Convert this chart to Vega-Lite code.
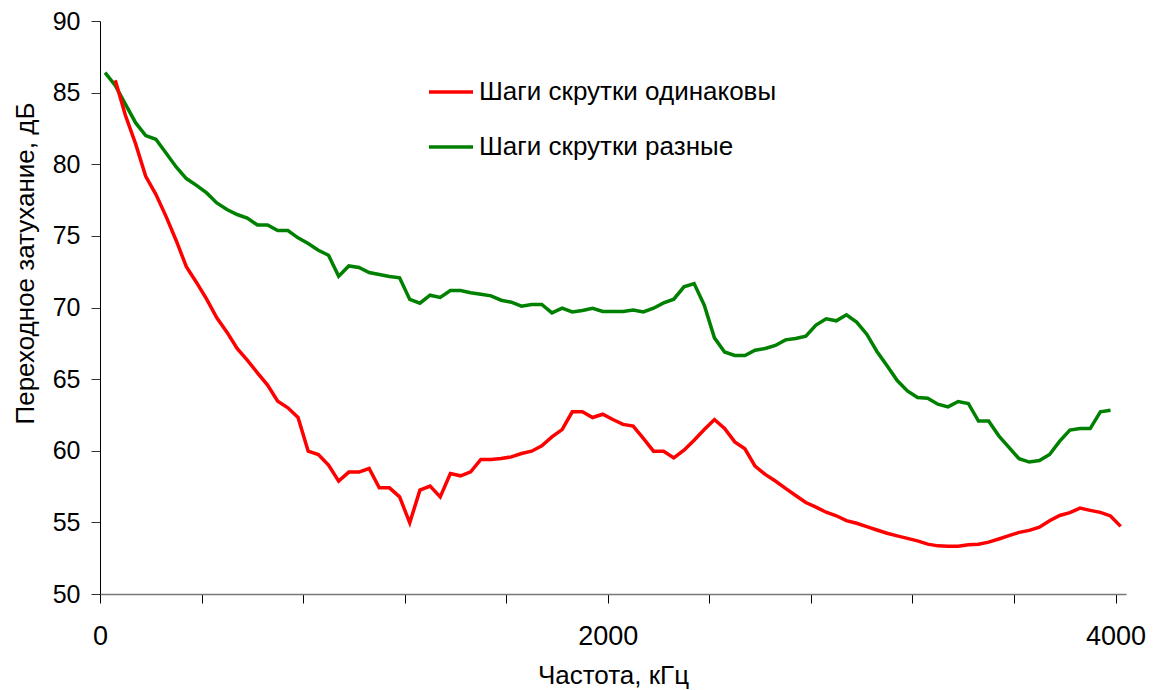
{
  "$schema": "https://vega.github.io/schema/vega-lite/v6.json",
  "autosize": "none",
  "width": 1026,
  "height": 573,
  "padding": {"left": 100, "top": 21, "right": 29, "bottom": 96},
  "background": "white",
  "config": {
    "font": "Liberation Sans",
    "view": {"stroke": null},
    "axis": {"grid": false, "labelColor": "#000", "titleColor": "#000", "titleFontWeight": "normal", "labelFont": "Liberation Sans", "titleFont": "Liberation Sans"}
  },
  "data": {"values": [
    {"series":"Шаги скрутки разные","x":20,"y":86.4},{"series":"Шаги скрутки разные","x":60,"y":85.5},{"series":"Шаги скрутки разные","x":100,"y":84.2},{"series":"Шаги скрутки разные","x":140,"y":82.9},{"series":"Шаги скрутки разные","x":180,"y":82.0},{"series":"Шаги скрутки разные","x":220,"y":81.74},{"series":"Шаги скрутки разные","x":260,"y":80.79},{"series":"Шаги скрутки разные","x":300,"y":79.81},{"series":"Шаги скрутки разные","x":340,"y":79.0},{"series":"Шаги скрутки разные","x":380,"y":78.53},
    {"series":"Шаги скрутки разные","x":420,"y":78.0},{"series":"Шаги скрутки разные","x":460,"y":77.3},{"series":"Шаги скрутки разные","x":500,"y":76.84},{"series":"Шаги скрутки разные","x":540,"y":76.49},{"series":"Шаги скрутки разные","x":580,"y":76.25},{"series":"Шаги скрутки разные","x":620,"y":75.76},{"series":"Шаги скрутки разные","x":660,"y":75.76},{"series":"Шаги скрутки разные","x":700,"y":75.37},{"series":"Шаги скрутки разные","x":740,"y":75.37},{"series":"Шаги скрутки разные","x":780,"y":74.86},
    {"series":"Шаги скрутки разные","x":820,"y":74.47},{"series":"Шаги скрутки разные","x":860,"y":74.0},{"series":"Шаги скрутки разные","x":900,"y":73.65},{"series":"Шаги скрутки разные","x":940,"y":72.18},{"series":"Шаги скрутки разные","x":980,"y":72.9},{"series":"Шаги скрутки разные","x":1020,"y":72.79},{"series":"Шаги скрутки разные","x":1060,"y":72.44},{"series":"Шаги скрутки разные","x":1100,"y":72.3},{"series":"Шаги скрутки разные","x":1140,"y":72.16},{"series":"Шаги скрутки разные","x":1180,"y":72.07},
    {"series":"Шаги скрутки разные","x":1220,"y":70.56},{"series":"Шаги скрутки разные","x":1260,"y":70.3},{"series":"Шаги скрутки разные","x":1300,"y":70.86},{"series":"Шаги скрутки разные","x":1340,"y":70.7},{"series":"Шаги скрутки разные","x":1380,"y":71.19},{"series":"Шаги скрутки разные","x":1420,"y":71.19},{"series":"Шаги скрутки разные","x":1460,"y":71.03},{"series":"Шаги скрутки разные","x":1500,"y":70.93},{"series":"Шаги скрутки разные","x":1540,"y":70.81},{"series":"Шаги скрутки разные","x":1580,"y":70.51},
    {"series":"Шаги скрутки разные","x":1620,"y":70.37},{"series":"Шаги скрутки разные","x":1660,"y":70.09},{"series":"Шаги скрутки разные","x":1700,"y":70.21},{"series":"Шаги скрутки разные","x":1740,"y":70.21},{"series":"Шаги скрутки разные","x":1780,"y":69.62},{"series":"Шаги скрутки разные","x":1820,"y":69.95},{"series":"Шаги скрутки разные","x":1860,"y":69.69},{"series":"Шаги скрутки разные","x":1900,"y":69.79},{"series":"Шаги скрутки разные","x":1940,"y":69.95},{"series":"Шаги скрутки разные","x":1980,"y":69.72},
    {"series":"Шаги скрутки разные","x":2020,"y":69.72},{"series":"Шаги скрутки разные","x":2060,"y":69.72},{"series":"Шаги скрутки разные","x":2100,"y":69.83},{"series":"Шаги скрутки разные","x":2140,"y":69.69},{"series":"Шаги скрутки разные","x":2180,"y":69.95},{"series":"Шаги скрутки разные","x":2220,"y":70.32},{"series":"Шаги скрутки разные","x":2260,"y":70.58},{"series":"Шаги скрутки разные","x":2300,"y":71.44},{"series":"Шаги скрутки разные","x":2340,"y":71.67},{"series":"Шаги скрутки разные","x":2380,"y":70.16},
    {"series":"Шаги скрутки разные","x":2420,"y":67.88},{"series":"Шаги скрутки разные","x":2460,"y":66.9},{"series":"Шаги скрутки разные","x":2500,"y":66.65},{"series":"Шаги скрутки разные","x":2540,"y":66.65},{"series":"Шаги скрутки разные","x":2580,"y":67.02},{"series":"Шаги скрутки разные","x":2620,"y":67.14},{"series":"Шаги скрутки разные","x":2660,"y":67.35},{"series":"Шаги скрутки разные","x":2700,"y":67.74},{"series":"Шаги скрутки разные","x":2740,"y":67.84},{"series":"Шаги скрутки разные","x":2780,"y":68.0},
    {"series":"Шаги скрутки разные","x":2820,"y":68.77},{"series":"Шаги скрутки разные","x":2860,"y":69.21},{"series":"Шаги скрутки разные","x":2900,"y":69.07},{"series":"Шаги скрутки разные","x":2940,"y":69.49},{"series":"Шаги скрутки разные","x":2980,"y":68.98},{"series":"Шаги скрутки разные","x":3020,"y":68.14},{"series":"Шаги скрутки разные","x":3060,"y":66.93},{"series":"Шаги скрутки разные","x":3100,"y":65.93},{"series":"Шаги скрутки разные","x":3140,"y":64.9},{"series":"Шаги скрутки разные","x":3180,"y":64.18},
    {"series":"Шаги скрутки разные","x":3220,"y":63.72},{"series":"Шаги скрутки разные","x":3260,"y":63.67},{"series":"Шаги скрутки разные","x":3300,"y":63.25},{"series":"Шаги скрутки разные","x":3340,"y":63.06},{"series":"Шаги скрутки разные","x":3380,"y":63.44},{"series":"Шаги скрутки разные","x":3420,"y":63.3},{"series":"Шаги скрутки разные","x":3460,"y":62.07},{"series":"Шаги скрутки разные","x":3500,"y":62.07},{"series":"Шаги скрутки разные","x":3540,"y":61.04},{"series":"Шаги скрутки разные","x":3580,"y":60.23},
    {"series":"Шаги скрутки разные","x":3620,"y":59.44},{"series":"Шаги скрутки разные","x":3660,"y":59.21},{"series":"Шаги скрутки разные","x":3700,"y":59.32},{"series":"Шаги скрутки разные","x":3740,"y":59.74},{"series":"Шаги скрутки разные","x":3780,"y":60.67},{"series":"Шаги скрутки разные","x":3820,"y":61.44},{"series":"Шаги скрутки разные","x":3860,"y":61.55},{"series":"Шаги скрутки разные","x":3900,"y":61.55},{"series":"Шаги скрутки разные","x":3940,"y":62.72},{"series":"Шаги скрутки разные","x":3980,"y":62.83},
    {"series":"Шаги скрутки одинаковы","x":60,"y":85.86},{"series":"Шаги скрутки одинаковы","x":100,"y":83.42},{"series":"Шаги скрутки одинаковы","x":140,"y":81.44},{"series":"Шаги скрутки одинаковы","x":180,"y":79.16},{"series":"Шаги скрутки одинаковы","x":220,"y":77.9},{"series":"Шаги скрутки одинаковы","x":260,"y":76.36},{"series":"Шаги скрутки одинаковы","x":300,"y":74.68},{"series":"Шаги скрутки одинаковы","x":340,"y":72.85},{"series":"Шаги скрутки одинаковы","x":380,"y":71.75},{"series":"Шаги скрутки одинаковы","x":420,"y":70.58},
    {"series":"Шаги скрутки одинаковы","x":460,"y":69.28},{"series":"Шаги скрутки одинаковы","x":500,"y":68.28},{"series":"Шаги скрутки одинаковы","x":540,"y":67.14},{"series":"Шаги скрутки одинаковы","x":580,"y":66.32},{"series":"Шаги скрутки одинаковы","x":620,"y":65.44},{"series":"Шаги скрутки одинаковы","x":660,"y":64.58},{"series":"Шаги скрутки одинаковы","x":700,"y":63.46},{"series":"Шаги скрутки одинаковы","x":740,"y":63.0},{"series":"Шаги скрутки одинаковы","x":780,"y":62.32},{"series":"Шаги скрутки одинаковы","x":820,"y":59.97},
    {"series":"Шаги скрутки одинаковы","x":860,"y":59.74},{"series":"Шаги скрутки одинаковы","x":900,"y":59.0},{"series":"Шаги скрутки одинаковы","x":940,"y":57.88},{"series":"Шаги скрутки одинаковы","x":980,"y":58.51},{"series":"Шаги скрутки одинаковы","x":1020,"y":58.51},{"series":"Шаги скрутки одинаковы","x":1060,"y":58.76},{"series":"Шаги скрутки одинаковы","x":1100,"y":57.41},{"series":"Шаги скрутки одинаковы","x":1140,"y":57.41},{"series":"Шаги скрутки одинаковы","x":1180,"y":56.78},{"series":"Шаги скрутки одинаковы","x":1220,"y":54.97},
    {"series":"Шаги скрутки одинаковы","x":1260,"y":57.25},{"series":"Шаги скрутки одинаковы","x":1300,"y":57.53},{"series":"Шаги скрутки одинаковы","x":1340,"y":56.78},{"series":"Шаги скрутки одинаковы","x":1380,"y":58.41},{"series":"Шаги скрутки одинаковы","x":1420,"y":58.25},{"series":"Шаги скрутки одинаковы","x":1460,"y":58.53},{"series":"Шаги скрутки одинаковы","x":1500,"y":59.39},{"series":"Шаги скрутки одинаковы","x":1540,"y":59.39},{"series":"Шаги скрутки одинаковы","x":1580,"y":59.46},{"series":"Шаги скрутки одинаковы","x":1620,"y":59.57},
    {"series":"Шаги скрутки одинаковы","x":1660,"y":59.81},{"series":"Шаги скрутки одинаковы","x":1700,"y":59.97},{"series":"Шаги скрутки одинаковы","x":1740,"y":60.34},{"series":"Шаги скрутки одинаковы","x":1780,"y":60.97},{"series":"Шаги скрутки одинаковы","x":1820,"y":61.48},{"series":"Шаги скрутки одинаковы","x":1860,"y":62.72},{"series":"Шаги скрутки одинаковы","x":1900,"y":62.72},{"series":"Шаги скрутки одинаковы","x":1940,"y":62.32},{"series":"Шаги скрутки одинаковы","x":1980,"y":62.55},{"series":"Шаги скрутки одинаковы","x":2020,"y":62.18},
    {"series":"Шаги скрутки одинаковы","x":2060,"y":61.84},{"series":"Шаги скрутки одинаковы","x":2100,"y":61.72},{"series":"Шаги скрутки одинаковы","x":2140,"y":60.86},{"series":"Шаги скрутки одинаковы","x":2180,"y":59.97},{"series":"Шаги скрутки одинаковы","x":2220,"y":59.97},{"series":"Шаги скрутки одинаковы","x":2260,"y":59.5},{"series":"Шаги скрутки одинаковы","x":2300,"y":60.04},{"series":"Шаги скрутки одинаковы","x":2340,"y":60.74},{"series":"Шаги скрутки одинаковы","x":2380,"y":61.48},{"series":"Шаги скрутки одинаковы","x":2420,"y":62.18},
    {"series":"Шаги скрутки одинаковы","x":2460,"y":61.55},{"series":"Шаги скрутки одинаковы","x":2500,"y":60.62},{"series":"Шаги скрутки одинаковы","x":2540,"y":60.14},{"series":"Шаги скрутки одинаковы","x":2580,"y":58.93},{"series":"Шаги скрутки одинаковы","x":2620,"y":58.35},{"series":"Шаги скрутки одинаковы","x":2660,"y":57.89},{"series":"Шаги скрутки одинаковы","x":2700,"y":57.37},{"series":"Шаги скрутки одинаковы","x":2740,"y":56.88},{"series":"Шаги скрутки одинаковы","x":2780,"y":56.39},{"series":"Шаги скрутки одинаковы","x":2820,"y":56.06},
    {"series":"Шаги скрутки одинаковы","x":2860,"y":55.71},{"series":"Шаги скрутки одинаковы","x":2900,"y":55.46},{"series":"Шаги скрутки одинаковы","x":2940,"y":55.12},{"series":"Шаги скрутки одинаковы","x":2980,"y":54.94},{"series":"Шаги скрутки одинаковы","x":3020,"y":54.7},{"series":"Шаги скрутки одинаковы","x":3060,"y":54.47},{"series":"Шаги скрутки одинаковы","x":3100,"y":54.24},{"series":"Шаги скрутки одинаковы","x":3140,"y":54.06},{"series":"Шаги скрутки одинаковы","x":3180,"y":53.88},{"series":"Шаги скрутки одинаковы","x":3220,"y":53.71},
    {"series":"Шаги скрутки одинаковы","x":3260,"y":53.48},{"series":"Шаги скрутки одинаковы","x":3300,"y":53.36},{"series":"Шаги скрутки одинаковы","x":3340,"y":53.34},{"series":"Шаги скрутки одинаковы","x":3380,"y":53.34},{"series":"Шаги скрутки одинаковы","x":3420,"y":53.44},{"series":"Шаги скрутки одинаковы","x":3460,"y":53.47},{"series":"Шаги скрутки одинаковы","x":3500,"y":53.62},{"series":"Шаги скрутки одинаковы","x":3540,"y":53.84},{"series":"Шаги скрутки одинаковы","x":3580,"y":54.07},{"series":"Шаги скрутки одинаковы","x":3620,"y":54.3},
    {"series":"Шаги скрутки одинаковы","x":3660,"y":54.44},{"series":"Шаги скрутки одинаковы","x":3700,"y":54.66},{"series":"Шаги скрутки одинаковы","x":3740,"y":55.11},{"series":"Шаги скрутки одинаковы","x":3780,"y":55.48},{"series":"Шаги скрутки одинаковы","x":3820,"y":55.68},{"series":"Шаги скрутки одинаковы","x":3860,"y":56.0},{"series":"Шаги скрутки одинаковы","x":3900,"y":55.84},{"series":"Шаги скрутки одинаковы","x":3940,"y":55.7},{"series":"Шаги скрутки одинаковы","x":3980,"y":55.45},{"series":"Шаги скрутки одинаковы","x":4020,"y":54.72}
  ]},
  "mark": {"type": "line", "strokeWidth": 3.5, "strokeJoin": "miter"},
  "encoding": {
    "x": {
      "field": "x", "type": "quantitative",
      "scale": {"domain": [0, 4041], "nice": false, "zero": false},
      "axis": {
        "title": "Частота, кГц",
        "values": [0, 400, 800, 1200, 1600, 2000, 2400, 2800, 3200, 3600, 4000],
        "format": "d",
        "labelExpr": "datum.value % 2000 === 0 ? datum.label : ''",
        "labelFlush": false,
        "labelOverlap": false,
        "labelFontSize": 27,
        "labelPadding": 20,
        "labelDx": 6,
        "tickSize": 9,
        "tickColor": "#000",
        "domainColor": "#777",
        "domainWidth": 1.5,
        "titleFontSize": 26,
        "titleBaseline": "alphabetic",
        "titleY": 89
      }
    },
    "y": {
      "field": "y", "type": "quantitative",
      "scale": {"domain": [50, 90], "nice": false, "zero": false},
      "axis": {
        "title": "Переходное затухание, дБ",
        "values": [50, 55, 60, 65, 70, 75, 80, 85, 90],
        "labelFlush": false,
        "labelFontSize": 25,
        "labelPadding": 11,
        "tickSize": 9,
        "tickColor": "#333",
        "domainColor": "#000",
        "titleFontSize": 26,
        "titleAngle": 270,
        "titleBaseline": "alphabetic",
        "titleAlign": "center",
        "titleX": -67,
        "titleY": 242
      }
    },
    "color": {
      "field": "series", "type": "nominal",
      "scale": {"domain": ["Шаги скрутки одинаковы", "Шаги скрутки разные"], "range": ["#ff0000", "#008000"]},
      "legend": {
        "title": null,
        "orient": "none",
        "legendX": 327,
        "legendY": 47,
        "padding": 0,
        "symbolType": "stroke",
        "symbolSize": 1936,
        "symbolStrokeWidth": 3.5,
        "labelFontSize": 26,
        "labelColor": "#000",
        "labelFont": "Liberation Sans",
        "labelLimit": 0,
        "labelOffset": 4,
        "rowPadding": 18
      }
    }
  }
}
